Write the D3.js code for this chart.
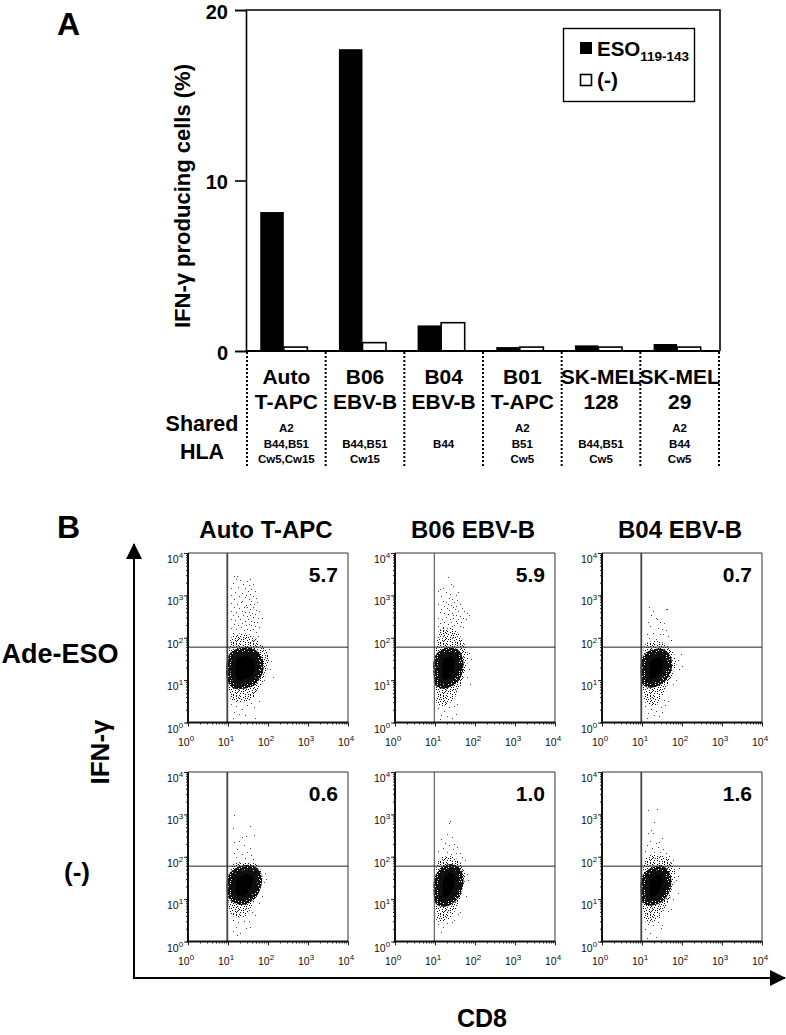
<!DOCTYPE html>
<html lang="en">
<head>
<title>IFN-gamma producing cells</title>
<meta charset="utf-8">
<script src="https://d3js.org/d3.v7.min.js"></script>
<style>
body { margin: 0; background: #fff; }
svg { display: block; }
text { font-family: "Liberation Sans", Arial, sans-serif; font-weight: bold; fill: #000; }
.flow text { font-weight: normal; font-size: 10.5px; fill: #111; }
.flow text.big { font-weight: bold; fill: #000; }
.flow path.domain { display: none; }
</style>
</head>
<body>
<script>
/////////////////// Data: bars //////////////
var categories = ["Auto", "B06", "B04", "B01", "SK128", "SK29"];
var catLine1 = ["Auto", "B06", "B04", "B01", "SK-MEL", "SK-MEL"];
var catLine2 = ["T-APC", "EBV-B", "EBV-B", "T-APC", "128", "29"];
var hlaLines = [
  ["A2", "B44,B51", "Cw5,Cw15"],
  ["", "B44,B51", "Cw15"],
  ["", "B44", ""],
  ["A2", "B51", "Cw5"],
  ["", "B44,B51", "Cw5"],
  ["A2", "B44", "Cw5"]
];
var esoValues = [8.15, 17.7, 1.5, 0.23, 0.33, 0.41];
var noneValues = [0.23, 0.49, 1.66, 0.23, 0.23, 0.23];
var yTicks = [0, 10, 20];

/////////////////// Data: flow plots //////////////
var panelTitles = ["Auto T-APC", "B06 EBV-B", "B04 EBV-B"];
var rowLabels = ["Ade-ESO", "(-)"];
var percents = ["5.7", "5.9", "0.7", "0.6", "1.0", "1.6"];
var decades = [1, 10, 100, 1000, 10000];
var decadeExp = ["0", "1", "2", "3", "4"];
var gateX = 9.6, gateY = 60;

// solid centre of each cloud, [CD8, IFN-g]
var coreOutlines = [
  [[22,46],[35,46],[48,38],[58,28],[60,19],[50,12],[38,9],[25,8],[15,8],[12,12],[12,25],[14,38]],
  [[18,44],[28,46],[37,36],[40,24],[35,13],[27,9.5],[18,8],[13,8.5],[12,13],[12,28],[14,38]],
  [[20,42],[30,43],[40,34],[44,24],[38,14],[29,10.5],[18,8.5],[13,9],[12,14],[12.5,28],[15,37]],
  [[20,46],[36,50],[50,40],[55,27],[47,16],[36,11.5],[26,9.5],[16,10],[12.5,13],[12.5,30],[15,39]],
  [[18,48],[28,52],[37,41],[40,27],[35,15],[27,10.5],[18,8.5],[13,9],[12,14],[12.5,30],[15,40]],
  [[19,44],[30,48],[38,39],[42,25],[35,14],[27,10.5],[18,9],[13,9.5],[12,14],[12.5,30],[15,38]]
];
// speckled ring round the centre
var haloOutlines = [
  [[13,110],[30,125],[52,95],[80,60],[105,35],[90,14],[65,7],[45,4],[25,3],[12,3.5],[10.5,6],[10.5,40]],
  [[13,150],[25,170],[40,120],[55,70],[68,35],[55,14],[40,6],[25,3],[12,2.5],[10.5,6],[10.5,40]],
  [[13,75],[28,82],[45,62],[65,40],[72,22],[55,12],[35,5],[22,2.5],[12,3],[10.5,6],[10.5,40]],
  [[14,68],[38,72],[58,60],[72,35],[62,16],[42,8],[28,4],[13,4],[10.5,7],[10.5,40]],
  [[13,90],[28,100],[42,75],[58,42],[50,18],[34,6],[20,3.2],[11.5,3],[10.5,8],[10.5,40]],
  [[13,100],[30,110],[50,85],[68,45],[60,18],[40,7],[22,3],[12,3],[10.5,7],[10.5,40]]
];
// single events outside the ring
var sparseDots = [
  [[14,2900],[17,2800],[16,2500],[20,2300],[30,2200],[36,2400],[13,2000],[24,1900],[33,1800],[42,1900],[12,1500],[18,1600],[27,1500],[38,1400],[46,1300],[15,1200],[22,1150],[31,1250],[35,1050],[12,1000],[19,950],[26,900],[29,1000],[43,950],[50,850],[14,800],[23,750],[33,800],[38,720],[54,700],[12,650],[17,620],[21,680],[28,600],[35,640],[45,620],[14,520],[19,500],[25,540],[30,520],[36,480],[42,520],[50,450],[60,430],[12,430],[16,400],[22,430],[27,410],[33,400],[39,380],[47,360],[13,350],[18,330],[24,340],[30,320],[35,340],[42,310],[55,300],[70,290],[12,280],[15,260],[20,280],[26,250],[31,270],[37,250],[44,240],[52,230],[14,210],[18,200],[23,220],[28,200],[33,210],[38,195],[47,190],[61,180],[12,170],[16,160],[21,175],[25,155],[30,165],[35,150],[41,165],[50,140],[13,130],[56,110],[108,55],[120,28],[110,18],[130,12],[78,10],[12,2.8],[16,2.4],[22,2.1],[30,2.6],[38,2.9],[14,1.8],[19,1.6],[26,1.5],[13,1.3],[48,1.25],[60,3.2],[44,2.3]],
  [[21,2700],[16,1500],[13,1450],[25,1900],[29,1700],[12,1250],[19,1200],[24,1100],[33,1000],[38,1200],[14,950],[22,880],[27,820],[16,750],[19,700],[21,640],[30,700],[36,780],[43,620],[12,620],[17,560],[25,590],[28,520],[34,560],[14,480],[20,500],[23,450],[31,470],[38,430],[46,500],[52,420],[64,380],[70,340],[13,400],[17,380],[21,360],[26,390],[29,340],[34,350],[41,320],[50,300],[58,280],[12,300],[15,280],[19,310],[24,270],[28,290],[33,250],[38,270],[45,230],[13,220],[17,240],[21,210],[25,230],[30,205],[35,220],[42,190],[49,175],[12,190],[16,180],[20,170],[27,185],[72,44],[80,32],[70,18],[62,12],[75,8],[12,2.2],[17,1.9],[23,2.3],[30,2.4],[36,2.8],[14,1.5],[20,1.4],[27,1.3],[34,1.6],[13,1.2]],
  [[15,520],[39,490],[43,470],[19,430],[17,350],[22,300],[24,280],[28,240],[14,240],[36,220],[16,190],[25,170],[31,165],[40,150],[19,130],[13,125],[28,120],[34,125],[45,110],[15,100],[22,95],[52,90],[92,42],[100,22],[78,30],[84,18],[70,10],[60,8],[44,3.2],[35,3.4],[12,2.4],[17,2.1],[23,1.9],[30,2.3],[38,2.6],[14,1.7],[20,1.5],[26,1.4],[32,1.8],[13,1.3]],
  [[14,950],[13,480],[36,540],[28,310],[45,320],[22,300],[19,230],[14,220],[25,190],[17,150],[36,160],[30,130],[14,120],[22,115],[38,110],[16,100],[27,95],[42,90],[85,42],[78,25],[90,30],[72,12],[60,8],[40,5],[48,4.2],[13,3.2],[18,2.9],[25,3.1],[34,3],[16,2.2],[13,1.8],[20,1.6],[28,2.1],[35,2.2],[17,1.4]],
  [[24,700],[22,620],[20,340],[26,290],[14,260],[18,210],[30,205],[23,190],[36,170],[16,160],[12,140],[28,150],[20,130],[33,120],[42,120],[25,115],[48,100],[55,85],[62,40],[65,28],[58,12],[42,5],[38,4.4],[12,2.6],[16,2.2],[20,2.7],[27,2.9],[30,3.2],[14,1.7]],
  [[14,1300],[24,1350],[20,650],[17,420],[14,360],[19,370],[32,280],[16,230],[22,210],[27,220],[13,190],[18,160],[25,170],[34,150],[12,135],[20,130],[29,130],[40,120],[46,105],[58,85],[85,55],[80,35],[72,28],[78,14],[60,10],[52,6],[45,5.2],[14,2.6],[19,2.4],[25,2.9],[31,2.5],[30,2.1],[12,2],[16,1.6],[23,1.3],[13,1.2]]
];

/////////////////////// Part A: bars ///////////////////////
var width = 786, height = 1035;
var svg = d3.select("body").append("svg").attr("width", width).attr("height", height);

var x0 = d3.scaleBand().domain(categories).range([247, 719]);
var x1 = d3.scaleBand().domain(["eso", "none"]).range([0, x0.bandwidth()]).paddingInner(0).paddingOuter(0.67).align(0.42);
var y = d3.scaleLinear().domain([0, 20]).range([351, 10]);

svg.append("text").attr("x", 57).attr("y", 35).attr("font-size", 32).text("A");
svg.append("text").attr("x", 57).attr("y", 538).attr("font-size", 32).text("B");

categories.forEach(function(c, i) {
  svg.append("rect").attr("x", x0(c) + x1("eso")).attr("y", y(esoValues[i]))
    .attr("width", x1.bandwidth()).attr("height", y(0) - y(esoValues[i])).attr("fill", "#000");
  svg.append("rect").attr("x", x0(c) + x1("none")).attr("y", y(noneValues[i]))
    .attr("width", x1.bandwidth()).attr("height", y(0) - y(noneValues[i]))
    .attr("fill", "#fff").attr("stroke", "#000").attr("stroke-width", 1.6);
});

// frame
svg.append("path").attr("d", "M246," + y(20) + "H720V" + y(0)).attr("fill", "none").attr("stroke", "#000").attr("stroke-width", 1.6);
var yAxis = d3.axisLeft(y).tickValues(yTicks).tickSize(11).tickPadding(7).tickFormat(d3.format("d"));
var yg = svg.append("g").attr("transform", "translate(246,0)").call(yAxis);
yg.selectAll("path,line").attr("stroke", "#000").attr("stroke-width", 1.6);
yg.selectAll("text").attr("font-size", 20).attr("font-family", "Liberation Sans").attr("font-weight", "bold").attr("dy", "0.42em");
svg.append("line").attr("x1", 246).attr("x2", 720).attr("y1", y(0)).attr("y2", y(0)).attr("stroke", "#000").attr("stroke-width", 2);

svg.append("text").attr("transform", "translate(190,196) rotate(-90)").attr("text-anchor", "middle")
  .attr("font-size", 22).text("IFN-γ producing cells (%)");

// legend
svg.append("rect").attr("x", 563.5).attr("y", 28.5).attr("width", 131).attr("height", 73).attr("fill", "#fff").attr("stroke", "#000").attr("stroke-width", 1.4);
svg.append("rect").attr("x", 580).attr("y", 42).attr("width", 12).attr("height", 12).attr("fill", "#000");
svg.append("rect").attr("x", 580.5).attr("y", 74.5).attr("width", 11).attr("height", 11).attr("fill", "#fff").attr("stroke", "#000").attr("stroke-width", 1.6);
var legText = svg.append("text").attr("x", 597).attr("y", 56).attr("font-size", 20.5);
legText.append("tspan").text("ESO");
legText.append("tspan").attr("font-size", 13.5).attr("dy", 5).text("119-143");
svg.append("text").attr("x", 597).attr("y", 87).attr("font-size", 21).text("(-)");

// category labels and dotted dividers
var dividers = categories.map(function(c) { return x0(c); }).concat([x0.range()[1]]);
svg.selectAll("line.divider").data(dividers).enter().append("line").attr("class", "divider")
  .attr("x1", function(d) { return d; }).attr("x2", function(d) { return d; })
  .attr("y1", 352).attr("y2", 466).attr("stroke", "#000").attr("stroke-width", 2).attr("stroke-dasharray", "2,2");

categories.forEach(function(c, i) {
  var cx = x0(c) + x0.bandwidth() / 2;
  svg.append("text").attr("x", cx).attr("y", 384).attr("text-anchor", "middle").attr("font-size", 21).text(catLine1[i]);
  svg.append("text").attr("x", cx).attr("y", 409).attr("text-anchor", "middle").attr("font-size", 21).text(catLine2[i]);
  hlaLines[i].forEach(function(t, j) {
    svg.append("text").attr("x", cx).attr("y", 432 + j * 15.5).attr("text-anchor", "middle").attr("font-size", 11.5).text(t);
  });
});
svg.append("text").attr("x", 202).attr("y", 431).attr("text-anchor", "middle").attr("font-size", 21.5).text("Shared");
svg.append("text").attr("x", 202).attr("y", 459).attr("text-anchor", "middle").attr("font-size", 21.5).text("HLA");

/////////////////////// Part B: flow plots ///////////////////////
var colLeft = [188, 395, 602], rowTop = [553, 772];
var plotW = 160, plotH = 169.5;

var defs = svg.append("defs");
defs.append("marker").attr("id", "arrow").attr("viewBox", "0 0 16 16").attr("refX", 15).attr("refY", 8)
  .attr("markerWidth", 16).attr("markerHeight", 16).attr("markerUnits", "userSpaceOnUse").attr("orient", "auto")
  .append("path").attr("d", "M0,0L16,8L0,16Z").attr("fill", "#000");

// speckle textures, x = one pixel of ink
function addTexture(id, rows) {
  var tile = defs.append("pattern").attr("id", id).attr("patternUnits", "userSpaceOnUse")
    .attr("width", rows[0].length).attr("height", rows.length);
  rows.forEach(function(r, ry) {
    r.split("").forEach(function(ch, rx) {
      if (ch == "x") tile.append("rect").attr("x", rx).attr("y", ry).attr("width", 1).attr("height", 1).attr("fill", "#111");
    });
  });
}
addTexture("speckle", [
  ".x....x..x....x..",
  "....x......x....x",
  "x.....x.x.....x..",
  "..x.......x.x....",
  ".....x.x.......x.",
  ".x.........x..x..",
  "....x..x.x......x",
  "x.....x......x...",
  "..x.x.....x.....x",
  "........x....x.x.",
  ".x..x.........x..",
  "......x..x.x.....",
  "x..........x..x.."
]);
addTexture("dense", [
  "xxxxxx.xxxx",
  ".xxxxxxxx.x",
  "xxx.xxxxxxx",
  "xxxxxx.xx.x",
  "x.xxxxxxxxx",
  "xxxx.xxxx.x",
  "xxxxxxx.xxx",
  "x.xxxxxxxxx",
  "xxxxx.xxxx."
]);

var outline = d3.line().curve(d3.curveCatmullRomClosed.alpha(0.5));

percents.forEach(function(pct, i) {
  var col = i % 3, row = Math.floor(i / 3);
  var fx = d3.scaleLog().domain([1, 10000]).range([0, plotW]);
  var fy = d3.scaleLog().domain([1, 10000]).range([plotH, 0]);
  var g = svg.append("g").attr("class", "flow").attr("transform", "translate(" + colLeft[col] + "," + rowTop[row] + ")");
  var pts = function(list) { return outline(list.map(function(d) { return [fx(d[0]), fy(d[1])]; })); };

  g.append("path").attr("d", pts(haloOutlines[i])).attr("fill", "url(#speckle)");
  g.append("path").attr("d", pts(coreOutlines[i])).attr("fill", "#000")
    .attr("stroke", "url(#dense)").attr("stroke-width", 9);
  g.selectAll("rect.evt").data(sparseDots[i]).enter().append("rect").attr("class", "evt")
    .attr("x", function(d) { return Math.round(fx(d[0])); })
    .attr("y", function(d) { return Math.round(fy(d[1])); })
    .attr("width", 1).attr("height", 1).attr("fill", "#444");

  // frame and gates
  g.append("path").attr("d", "M0,0H" + plotW + "V" + plotH).attr("fill", "none").attr("stroke", "#333").attr("stroke-width", 1);
  g.append("line").attr("x1", fx(gateX)).attr("x2", fx(gateX)).attr("y1", 0).attr("y2", plotH)
    .attr("stroke", "#444").attr("stroke-width", col == 1 ? 1 : 1.8);
  g.append("line").attr("x1", 0).attr("x2", plotW).attr("y1", fy(gateY)).attr("y2", fy(gateY))
    .attr("stroke", "#222").attr("stroke-width", 1);

  // axes: minor ticks from the log scale, then longer ticks at the decades
  var minor = fx.ticks();
  [[d3.axisBottom(fx), "translate(0," + plotH + ")"], [d3.axisLeft(fy), null]].forEach(function(a) {
    var mg = g.append("g").call(a[0].tickValues(minor).tickSize(2).tickFormat(""));
    if (a[1]) mg.attr("transform", a[1]);
    mg.selectAll("line").attr("stroke", "#222");
    var dg = g.append("g").call(a[0].tickValues(decades).tickSize(4).tickFormat(""));
    if (a[1]) dg.attr("transform", a[1]);
    dg.selectAll("line").attr("stroke", "#222");
  });
  g.append("path").attr("d", "M0,0V" + plotH + "H" + plotW).attr("fill", "none").attr("stroke", "#111").attr("stroke-width", 2);

  decades.forEach(function(d, k) {
    var xl = g.append("text").attr("x", fx(d) - 10).attr("y", plotH + 23);
    xl.append("tspan").text("10");
    xl.append("tspan").style("font-size", "8px").attr("dy", -5).text(decadeExp[k]);
    var yl = g.append("text").attr("x", -21).attr("y", fy(d) + 10);
    yl.append("tspan").text("10");
    yl.append("tspan").style("font-size", "8px").attr("dy", -5).text(decadeExp[k]);
  });

  g.append("text").attr("class", "big").attr("x", 150).attr("y", 29).attr("text-anchor", "end")
    .style("font-size", "21px").text(pct);

  if (row == 0) {
    g.append("text").attr("class", "big").attr("x", plotW / 2 - 2).attr("y", -15).attr("text-anchor", "middle")
      .style("font-size", "24px").text(panelTitles[col]);
  }
});

svg.append("text").attr("x", 60).attr("y", 663).attr("text-anchor", "middle").attr("font-size", 27).text(rowLabels[0]);
svg.append("text").attr("x", 77).attr("y", 881).attr("text-anchor", "middle").attr("font-size", 26).text(rowLabels[1]);

// big arrows
svg.append("path").attr("d", "M134,978V544").attr("stroke", "#000").attr("stroke-width", 2).attr("fill", "none").attr("marker-end", "url(#arrow)");
svg.append("path").attr("d", "M133,978H785").attr("stroke", "#000").attr("stroke-width", 2).attr("fill", "none").attr("marker-end", "url(#arrow)");
svg.append("text").attr("transform", "translate(109,752) rotate(-90)").attr("text-anchor", "middle").attr("font-size", 26).text("IFN-γ");
svg.append("text").attr("x", 482).attr("y", 1027).attr("text-anchor", "middle").attr("font-size", 25).text("CD8");
</script>
</body>
</html>
